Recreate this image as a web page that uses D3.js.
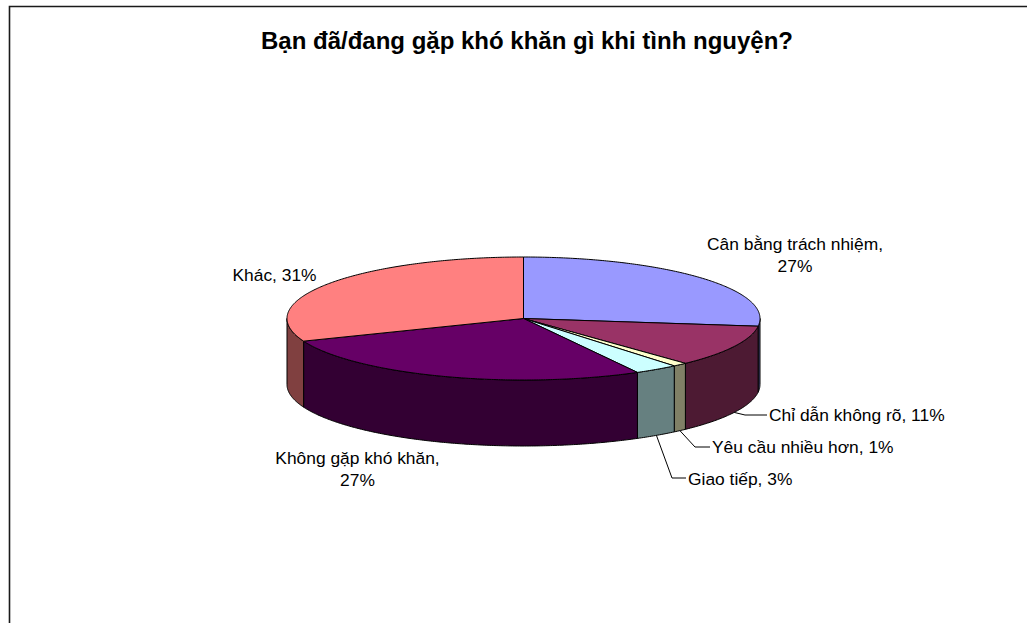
<!DOCTYPE html>
<html>
<head>
<meta charset="utf-8">
<script src="https://cdn.jsdelivr.net/npm/d3@7"></script>
<style>
  html,body{margin:0;padding:0;background:#fff;}
  svg{display:block;}
  text{font-family:"Liberation Sans",Arial,sans-serif;fill:#000;}
</style>
</head>
<body>
<svg id="chart" width="1027" height="623"></svg>
<script>
"use strict";
const chartTitle = "Bạn đã/đang gặp khó khăn gì khi tình nguyện?";
const categories = ["Cân bằng trách nhiệm","Chỉ dẫn không rõ","Yêu cầu nhiều hơn","Giao tiếp","Không gặp khó khăn","Khác"];
const values = [27,11,1,3,27,31];
const topColours = ["#9999ff","#993366","#ffffcc","#ccffff","#660066","#ff8080"];
const sideColours = ["#4d4d80","#4d1a33","#808066","#668080","#330033","#804040"];

const width = 1027, height = 623;
const cx = 523.5, cy = 318.5, rx = 236.5, ry = 61.5, depth = 66;

//Where each label goes, and the leader elbow if it has one
const labelLayout = [
    {x:795,y:250,wrap:true},
    {x:769,y:421,anchor:"start",elbow:[745,415]},
    {x:712,y:453,anchor:"start",elbow:[695,447]},
    {x:688,y:485,anchor:"start",elbow:[672,478]},
    {x:357.5,y:463.5,wrap:true},
    {x:274.5,y:281}
];

const svg = d3.select("#chart");

//Ellipse point for an angle measured clockwise from 12 o'clock
const px = a => cx + rx * Math.sin(a);
const py = a => cy - ry * Math.cos(a);

const arcPoints = function(a0,a1){
    let n = Math.max(2,Math.ceil((a1 - a0) / 0.01));
    return d3.range(n + 1).map(i => {
        let a = a0 + (a1 - a0) * i / n;
        return [px(a),py(a)];
    });
};
const line = d3.line();

const pie = d3.pie().sort(null).value(d => d);
const slices = pie(values);

//Frame: the right edge is cut off in the picture
svg.append("path")
    .attr("d",`M9.5,${height}V6.5H${width}`)
    .attr("fill","none")
    .attr("stroke","#1a1a1a")
    .attr("stroke-width",1.6);

//Side walls: only the front half of the ellipse shows
const frontStart = Math.PI / 2, frontEnd = Math.PI * 3 / 2;
svg.append("g").selectAll("path")
    .data(slices.filter(d => d.endAngle > frontStart && d.startAngle < frontEnd))
    .enter().append("path")
    .attr("d",d => {
        let front = arcPoints(Math.max(d.startAngle,frontStart),Math.min(d.endAngle,frontEnd)),
            lower = front.map(p => [p[0],p[1] + depth]).reverse();
        return line(front.concat(lower)) + "Z";
    })
    .attr("fill",d => sideColours[d.index])
    .attr("stroke","#000")
    .attr("stroke-width",1)
    .attr("stroke-linejoin","round");

//Top face
svg.append("g").selectAll("path")
    .data(slices)
    .enter().append("path")
    .attr("d",d => line([[cx,cy]].concat(arcPoints(d.startAngle,d.endAngle))) + "Z")
    .attr("fill",d => topColours[d.index])
    .attr("stroke","#000")
    .attr("stroke-width",1)
    .attr("stroke-linejoin","round");

//Leader lines start from the bottom rim at each slice's middle angle
svg.append("g").selectAll("path")
    .data(slices.filter(d => labelLayout[d.index].elbow))
    .enter().append("path")
    .attr("d",d => {
        let mid = (d.startAngle + d.endAngle) / 2,
            layout = labelLayout[d.index];
        return line([[px(mid),py(mid) + depth],layout.elbow,[layout.x - 2,layout.elbow[1]]]);
    })
    .attr("fill","none")
    .attr("stroke","#000")
    .attr("stroke-width",1);

//Title
svg.append("text")
    .attr("x",527)
    .attr("y",48.5)
    .attr("text-anchor","middle")
    .style("font-size","24px")
    .style("font-weight","bold")
    .text(chartTitle);

//Labels: "name, value%", wrapped before the value where the picture does
const labelLines = function(i){
    let layout = labelLayout[i];
    return layout.wrap ? [categories[i] + ",",values[i] + "%"] : [categories[i] + ", " + values[i] + "%"];
};
const labels = svg.append("g").selectAll("text")
    .data(labelLayout)
    .enter().append("text")
    .attr("text-anchor",d => d.anchor || "middle")
    .style("font-size","17.4px");
labels.selectAll("tspan")
    .data((d,i) => labelLines(i).map(l => ({text:l,x:d.x,y:d.y})))
    .enter().append("tspan")
    .attr("x",d => d.x)
    .attr("y",(d,i) => d.y + i * 22)
    .text(d => d.text);
</script>
</body>
</html>
